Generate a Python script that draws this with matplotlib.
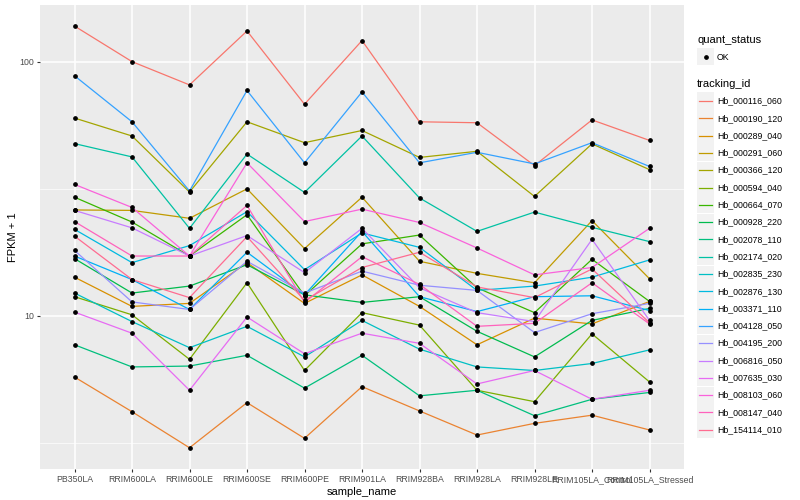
import numpy as np
import matplotlib.pyplot as plt
from matplotlib.patches import Rectangle
from matplotlib.lines import Line2D
from matplotlib.ticker import FixedLocator, NullFormatter

plt.rcParams['font.family'] = ['Liberation Sans', 'DejaVu Sans']

# muestras (eje x)
samples = ["PB350LA", "RRIM600LA", "RRIM600LE", "RRIM600SE", "RRIM600PE", "RRIM901LA",
           "RRIM928BA", "RRIM928LA", "RRIM928LE", "RRIM105LA_Control", "RRIM105LA_Stressed"]

tracking_ids = ["Hb_000116_060", "Hb_000190_120", "Hb_000289_040", "Hb_000291_060",
                "Hb_000366_120", "Hb_000594_040", "Hb_000664_070", "Hb_000928_220",
                "Hb_002078_110", "Hb_002174_020", "Hb_002835_230", "Hb_002876_130",
                "Hb_003371_110", "Hb_004128_050", "Hb_004195_200", "Hb_006816_050",
                "Hb_007635_030", "Hb_008103_060", "Hb_008147_040", "Hb_154114_010"]

# colores tipo ggplot (hue_pal, 20 niveles)
colors = ["#F8766D", "#EA8331", "#D89000", "#C09B00", "#A3A500", "#7CAE00", "#39B600",
          "#00BB4E", "#00BF7D", "#00C1A3", "#00BFC4", "#00BAE0", "#00B0F6", "#35A2FF",
          "#9590FF", "#C77CFF", "#E76BF3", "#FA62DB", "#FF62BC", "#FF6C91"]

# FPKM + 1 por gen, en el orden de samples
hb_000116_060 = [138, 100, 81, 132, 68, 121, 58, 57.5, 39, 59, 49]
hb_000190_120 = [5.75, 4.2, 3.03, 4.56, 3.3, 5.27, 4.23, 3.4, 3.78, 4.07, 3.56]
hb_000289_040 = [14.2, 10.9, 11.2, 16.2, 11.2, 14.5, 10.9, 7.7, 9.8, 9.3, 11.4]
hb_000291_060 = [26.1, 26, 24.2, 31.6, 18.4, 29.3, 16.4, 14.7, 13.5, 23.7, 14]
hb_000366_120 = [60, 51, 30.7, 58, 48, 53.6, 42, 44.4, 29.5, 47.5, 37.6]
hb_000594_040 = [11.9, 10.1, 6.75, 13.5, 6.1, 10.3, 9.2, 5.1, 4.6, 8.5, 5.5]
hb_000664_070 = [29.3, 23.4, 17.2, 25, 12, 19.2, 20.8, 12.9, 10.3, 16.7, 11.4]
hb_000928_220 = [16.8, 12.3, 13.1, 15.9, 12.1, 11.3, 11.9, 8.7, 6.9, 9.6, 10.7]
hb_002078_110 = [7.7, 6.3, 6.35, 7.0, 5.2, 7.0, 4.85, 5.1, 4.05, 4.7, 5.0]
hb_002174_020 = [47.6, 42.2, 22.1, 43.3, 30.6, 51, 29.1, 21.5, 25.6, 22.3, 19.6]
hb_002835_230 = [12.3, 9.5, 7.5, 9.1, 6.9, 9.6, 7.4, 6.3, 6.1, 6.5, 7.35]
hb_002876_130 = [21.9, 16.2, 18.9, 25.7, 15.2, 21.2, 18.6, 12.6, 13.1, 14.2, 16.6]
hb_003371_110 = [17.2, 13.9, 10.6, 17.8, 12.1, 21.5, 11.9, 10.4, 11.9, 12, 10.5]
hb_004128_050 = [88, 58, 31, 77, 40, 76, 40, 44, 39.6, 48, 38.7]
hb_004195_200 = [18.1, 11.35, 10.6, 16.4, 12.3, 15, 13.2, 12.6, 8.6, 10.2, 11.2]
hb_006816_050 = [26, 22.2, 17.2, 20.7, 14.8, 22.1, 12.9, 10.3, 9.5, 20, 9.6]
hb_007635_030 = [10.35, 8.55, 5.1, 9.9, 7.1, 8.55, 7.8, 5.4, 6.1, 4.7, 5.1]
hb_008103_060 = [32.9, 26.7, 17.2, 40, 23.5, 26.3, 23.3, 18.5, 14.5, 15.5, 22.1]
hb_008147_040 = [23.5, 17.2, 17.2, 27.2, 11.3, 17.1, 13.3, 9.1, 9.35, 13.5, 9.3]
hb_154114_010 = [20.6, 13.9, 11.8, 20.5, 11.5, 15.5, 17.8, 13, 11.8, 15.3, 9.4]

series = [hb_000116_060, hb_000190_120, hb_000289_040, hb_000291_060, hb_000366_120,
          hb_000594_040, hb_000664_070, hb_000928_220, hb_002078_110, hb_002174_020,
          hb_002835_230, hb_002876_130, hb_003371_110, hb_004128_050, hb_004195_200,
          hb_006816_050, hb_007635_030, hb_008103_060, hb_008147_040, hb_154114_010]

W, H = 800, 500
fig = plt.figure(figsize=(8, 5), dpi=100)
ax = fig.add_axes([40 / W, 1 - 469 / H, 644 / W, 464 / H])
ax.set_facecolor("#EBEBEB")

x = np.arange(len(samples))
for vals, c in zip(series, colors):
    ax.plot(x, vals, color=c, lw=0.9, zorder=2)
for vals in series:
    ax.plot(x, vals, ls="none", marker="o", ms=2.4, color="black", zorder=3)

ax.set_yscale("log")
ax.set_ylim(2.5, 167)
ax.set_xlim(-0.6, len(samples) - 0.4)
ax.set_xticks(x)
ax.set_xticklabels(samples)
ax.set_yticks([10, 100])
ax.set_yticklabels(["10", "100"])
ax.yaxis.set_minor_locator(FixedLocator([10 ** 0.5, 10 ** 1.5]))
ax.yaxis.set_minor_formatter(NullFormatter())

ax.set_axisbelow(True)
ax.grid(which="major", color="white", lw=1.1)
ax.grid(which="minor", axis="y", color="white", lw=0.5)
for s in ax.spines.values():
    s.set_visible(False)
ax.tick_params(which="major", length=2.5, color="#333333", labelsize=6.3,
               labelcolor="#4D4D4D", pad=2)
ax.tick_params(which="minor", length=0)

ax.set_xlabel("sample_name", fontsize=8, labelpad=2)
ax.set_ylabel("FPKM + 1", fontsize=8, labelpad=1)

# leyenda manual al estilo ggplot
def fx(px):
    return px / W

def fy(py):
    return 1 - py / H

fig.text(fx(697), fy(40), "quant_status", fontsize=8, va="center")
fig.add_artist(Rectangle((fx(697), fy(65)), 17 / W, 17 / H, transform=fig.transFigure,
                         facecolor="#F2F2F2", edgecolor="none"))
fig.add_artist(Line2D([fx(705.5)], [fy(56.5)], marker="o", ms=2.4, color="black",
                      transform=fig.transFigure))
fig.text(fx(717), fy(57), "OK", fontsize=6.3, va="center")

fig.text(fx(697), fy(84), "tracking_id", fontsize=8, va="center")
for i, (tid, c) in enumerate(zip(tracking_ids, colors)):
    yc = 101 + 17.3 * i
    fig.add_artist(Rectangle((fx(697), fy(yc + 8.5)), 17 / W, 17 / H,
                             transform=fig.transFigure, facecolor="#F2F2F2",
                             edgecolor="none"))
    fig.add_artist(Line2D([fx(698.5), fx(711.5)], [fy(yc), fy(yc)], color=c, lw=0.9,
                          transform=fig.transFigure))
    fig.text(fx(717), fy(yc), tid, fontsize=6.3, va="center")

fig.savefig("out.png", dpi=100)
